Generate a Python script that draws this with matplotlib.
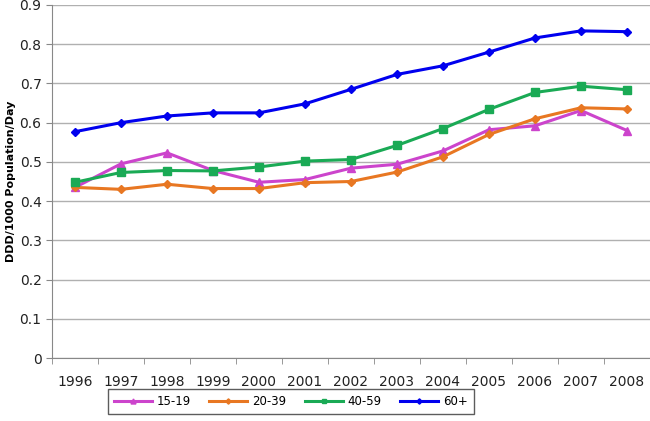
import numpy as np
import matplotlib.pyplot as plt

years = ["1996", "1997", "1998", "1999", "2000", "2001", "2002",
         "2003", "2004", "2005", "2006", "2007", "2008"]
age_15_19 = [0.435, 0.495, 0.523, 0.478, 0.448, 0.455, 0.484,
             0.494, 0.528, 0.582, 0.592, 0.631, 0.580]
age_20_39 = [0.435, 0.430, 0.443, 0.432, 0.432, 0.447, 0.450,
             0.474, 0.513, 0.570, 0.610, 0.638, 0.635]
age_40_59 = [0.448, 0.473, 0.478, 0.477, 0.487, 0.502, 0.506,
             0.542, 0.585, 0.634, 0.677, 0.693, 0.684]
age_60 = [0.577, 0.600, 0.617, 0.625, 0.625, 0.648, 0.685,
          0.723, 0.745, 0.780, 0.816, 0.834, 0.832]

fig = plt.figure(figsize=(6.5, 4.21), dpi=100)
ax = fig.add_axes([52 / 650, 63 / 421, 598 / 650, 353 / 421])

x = np.arange(len(years))
ax.plot(x, age_15_19, color="#CC44CC", marker="^", ms=6, lw=2.2, label="15-19")
ax.plot(x, age_20_39, color="#E87722", marker="D", ms=4.5, lw=2.2, label="20-39")
ax.plot(x, age_40_59, color="#1AAA55", marker="s", ms=6, lw=2.2, label="40-59")
ax.plot(x, age_60, color="#0000EE", marker="D", ms=4.5, lw=2.2, label="60+")

ax.set_xlim(-0.5, len(years) - 0.5)
ax.set_ylim(0, 0.9)
ax.set_yticks(np.arange(0, 0.91, 0.1))
ax.set_yticklabels(["0"] + [f"{v:.1f}" for v in np.arange(0.1, 0.91, 0.1)])
ax.set_xticks(x)
ax.set_xticklabels(years)
ax.set_xticks(np.arange(-0.5, len(years)), minor=True)
ax.tick_params(axis="x", which="major", length=0, pad=12, labelsize=10, colors="#222222")
ax.tick_params(axis="x", which="minor", length=4, color="#888888")
ax.tick_params(axis="y", length=4, color="#888888", labelsize=10, colors="#222222")
ax.grid(axis="y", color="#B0B0B0", lw=1)
ax.set_axisbelow(True)
for s in ["top", "right"]:
    ax.spines[s].set_visible(False)
ax.spines["left"].set_color("#888888")
ax.spines["bottom"].set_color("#888888")

ax.set_ylabel("DDD/1000 Population/Day", fontsize=8, fontweight="bold")
ax.yaxis.set_label_coords(-36 / 598, 0.5)

leg = fig.legend(loc="lower left", bbox_to_anchor=(102 / 650, 1 / 421), ncol=4,
                 fontsize=8.5, frameon=True, fancybox=False, edgecolor="#333333",
                 handlelength=3.2, columnspacing=1.6, handletextpad=0.4,
                 borderpad=0.5, markerscale=0.6)
leg.get_frame().set_linewidth(1)

fig.savefig("out.png", dpi=100)
